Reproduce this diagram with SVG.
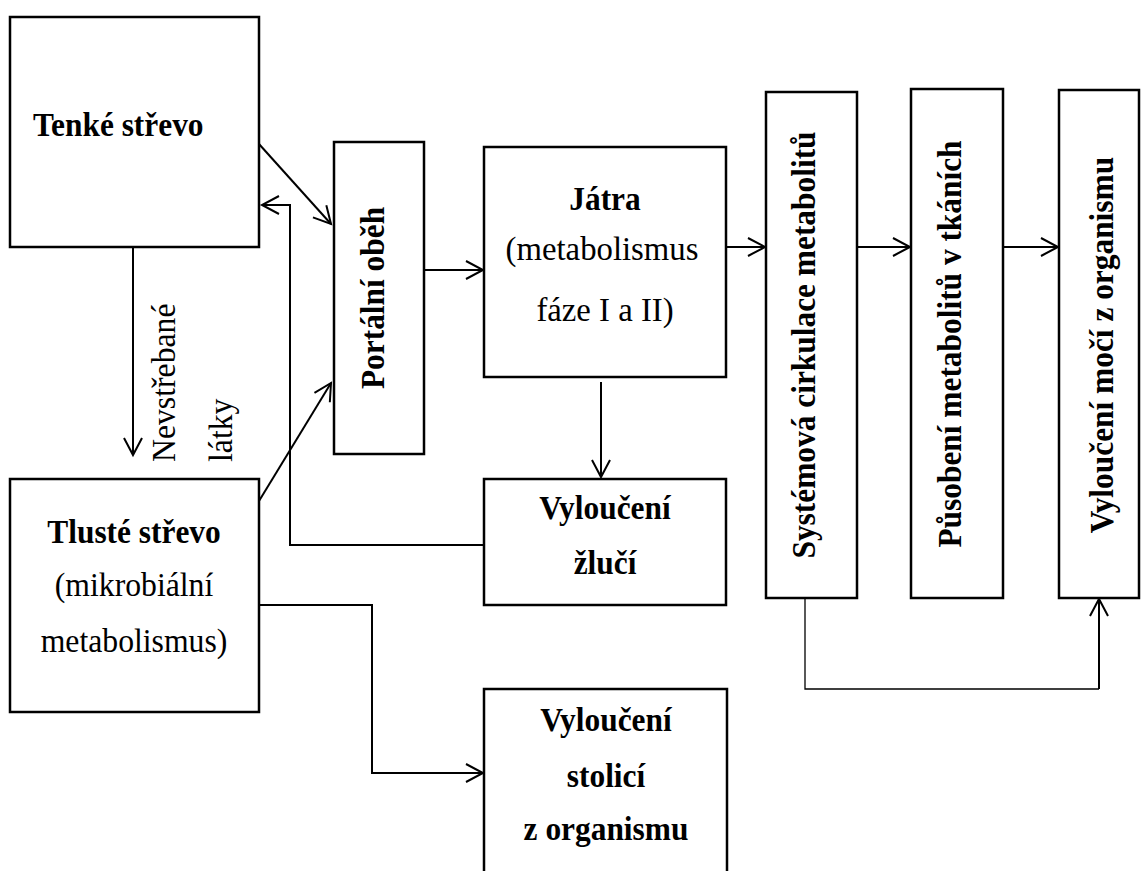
<svg xmlns="http://www.w3.org/2000/svg" width="1141" height="871" viewBox="0 0 1141 871">
<style>
.box{fill:#fff;stroke:#000;stroke-width:2.5}
.b{font-family:"Liberation Serif","Times New Roman",serif;font-weight:bold;font-size:34.5px;fill:#000}
.r{font-family:"Liberation Serif","Times New Roman",serif;font-size:34.5px;fill:#000}
.c{text-anchor:middle}
.ln{fill:none;stroke:#000;stroke-width:2}
.thin{fill:none;stroke:#000;stroke-width:1.3}
</style>
<defs>
<marker id="ah" markerUnits="userSpaceOnUse" markerWidth="24" markerHeight="24" viewBox="-20 -12 24 24" refX="0" refY="0" orient="auto">
<path d="M-17,-9 L0,0 L-17,9" fill="none" stroke="#000" stroke-width="2"/>
</marker>
</defs>
<rect width="1141" height="871" fill="#fff"/>
<g id="connectors">
<line class="ln" x1="259" y1="144" x2="331" y2="224" marker-end="url(#ah)"/>
<line class="ln" x1="259" y1="501" x2="331" y2="383" marker-end="url(#ah)"/>
<polyline class="ln" points="484,545 290,545 290,205 262,205" marker-end="url(#ah)"/>
<line class="ln" x1="133" y1="248" x2="133" y2="455" marker-end="url(#ah)"/>
<line class="ln" x1="424" y1="270" x2="483" y2="270" marker-end="url(#ah)"/>
<line class="ln" x1="601" y1="382" x2="601" y2="477" marker-end="url(#ah)"/>
<line class="ln" x1="726" y1="247" x2="765" y2="247" marker-end="url(#ah)"/>
<line class="ln" x1="857" y1="247" x2="910" y2="247" marker-end="url(#ah)"/>
<line class="ln" x1="1003" y1="247" x2="1058" y2="247" marker-end="url(#ah)"/>
<polyline class="ln" points="259,605 372,605 372,773 483,773" marker-end="url(#ah)"/>
<polyline class="thin" points="805,598 805,689 1099,689"/>
<line class="ln" x1="1099" y1="689" x2="1099" y2="599" marker-end="url(#ah)"/>
<text class="r" transform="translate(175,462) rotate(-90) scale(0.92,1)">Nevstřebané</text>
<text class="r" transform="translate(232,462) rotate(-90) scale(0.92,1)">látky</text>
</g>
<g id="tenke">
<rect class="box" x="10" y="17" width="249" height="230"/>
<text class="b" transform="translate(33,136) scale(0.91,1)">Tenké střevo</text>
</g>
<g id="portalni">
<rect class="box" x="334" y="142" width="90" height="312"/>
<text class="b c" transform="translate(384,298) rotate(-90) scale(0.91,1)">Portální oběh</text>
</g>
<g id="tluste">
<rect class="box" x="10" y="479" width="249" height="233"/>
<text class="b c" transform="translate(134,543) scale(0.91,1)">Tlusté střevo</text>
<text class="r c" transform="translate(134,596) scale(0.92,1)">(mikrobiální</text>
<text class="r c" transform="translate(134,652) scale(0.92,1)">metabolismus)</text>
</g>
<g id="jatra">
<rect class="box" x="484" y="147" width="242" height="230"/>
<text class="b c" transform="translate(605,210) scale(0.91,1)">Játra</text>
<text class="r c" transform="translate(602,260) scale(0.95,1)">(metabolismus</text>
<text class="r c" transform="translate(605,321) scale(0.95,1)">fáze I a II)</text>
</g>
<g id="zluc">
<rect class="box" x="484" y="479" width="242" height="126"/>
<text class="b c" transform="translate(605,519) scale(0.91,1)">Vyloučení</text>
<text class="b c" transform="translate(605,574) scale(0.91,1)">žlučí</text>
</g>
<g id="stolice">
<rect class="box" x="484" y="689" width="243" height="200"/>
<text class="b c" transform="translate(606,731) scale(0.91,1)">Vyloučení</text>
<text class="b c" transform="translate(606,787) scale(0.91,1)">stolicí</text>
<text class="b c" transform="translate(606,840) scale(0.91,1)">z organismu</text>
</g>
<g id="systemova">
<rect class="box" x="766" y="92" width="91" height="506"/>
<text class="b c" transform="translate(815,345) rotate(-90) scale(0.91,1)">Systémová cirkulace metabolitů</text>
</g>
<g id="pusobeni">
<rect class="box" x="911" y="89" width="92" height="509"/>
<text class="b c" transform="translate(961,344) rotate(-90) scale(0.91,1)">Působení metabolitů v tkáních</text>
</g>
<g id="moc">
<rect class="box" x="1059" y="90" width="80" height="508"/>
<text class="b c" transform="translate(1113,345) rotate(-90) scale(0.91,1)">Vyloučení močí z organismu</text>
</g>
</svg>
